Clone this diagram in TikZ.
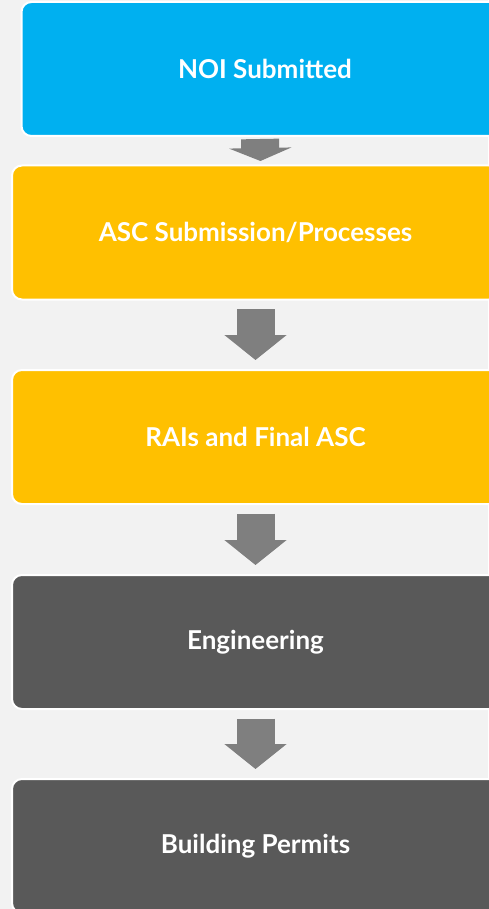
\documentclass[tikz,border=0pt]{standalone}
\usepackage{fontspec}
\setmainfont{Lato}
\usetikzlibrary{positioning,arrows.meta}
\definecolor{noiblue}{HTML}{00B0F0}
\definecolor{ascorange}{HTML}{FFC000}
\definecolor{stepgray}{HTML}{595959}
\definecolor{arrowgray}{HTML}{7F7F7F}
\definecolor{bggray}{HTML}{F2F2F2}
\begin{document}
\begin{tikzpicture}[x=1pt, y=-1pt,
  box/.style={draw=white, line width=2pt, rounded corners=10pt, minimum width=487pt, minimum height=134pt, inner sep=0pt, text=white, font=\fontsize{26}{31}\selectfont\bfseries},
  bigarrow/.style={draw=arrowgray, line width=38pt, -{Triangle[length=25pt,width=61pt]}, shorten <=8.5pt, shorten >=9pt},
  smallarrow/.style={draw=arrowgray, line width=38pt, -{Triangle[length=13pt,width=62pt]}, shorten <=2pt, shorten >=3.5pt}
]
\useasboundingbox (0,0) rectangle (488,909);
\fill[bggray] (0,0) rectangle (488,909);
\node[box, fill=noiblue] (noi) at (265,69) {NOI Submitted};
\node[box, fill=ascorange] (asc) at (255.5,232.5) {ASC Submission/Processes};
\node[box, fill=ascorange] (rai) at (255.5,437) {RAIs and Final ASC};
\node[box, fill=stepgray] (eng) at (255.5,642) {Engineering};
\node[box, fill=stepgray] (permit) at (255.5,846) {Building Permits};
\draw[smallarrow] ([xshift=-5pt]noi.south) -- ([xshift=5pt]asc.north);
\draw[bigarrow] (asc) -- (rai);
\draw[bigarrow] (rai) -- (eng);
\draw[bigarrow] (eng) -- (permit);
\end{tikzpicture}
\end{document}
